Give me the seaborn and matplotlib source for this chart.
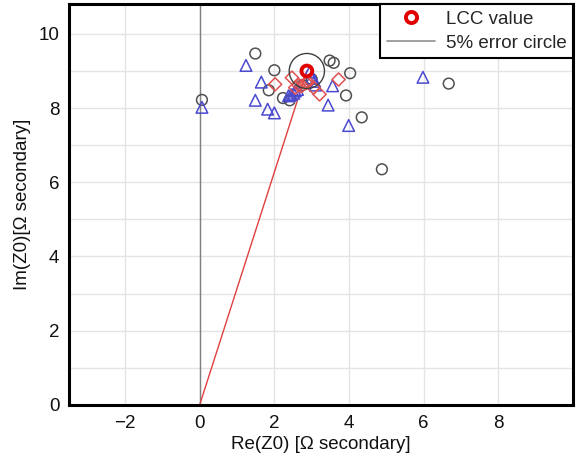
import matplotlib
matplotlib.use("Agg")
import matplotlib.pyplot as plt
from matplotlib.patches import Circle
from matplotlib.lines import Line2D
from matplotlib.ticker import MultipleLocator
import seaborn as sns
import pandas as pd
import numpy as np

# ---- data ----
circ_x = [0.06, 1.49, 2.00, 1.85, 2.23, 2.41, 3.48, 3.59, 4.03, 3.92, 4.34, 4.88, 6.67, 2.75, 3.00]
circ_y = [8.22, 9.47, 9.02, 8.48, 8.27, 8.21, 9.28, 9.22, 8.94, 8.34, 7.75, 6.35, 8.66, 8.62, 8.78]

tri_x = [0.06, 1.24, 1.65, 1.49, 1.82, 2.00, 3.56, 3.44, 3.99, 5.98, 2.38, 2.45, 2.52, 2.56, 2.62, 2.95, 3.00, 3.08, 3.10]
tri_y = [8.02, 9.15, 8.70, 8.21, 7.97, 7.87, 8.60, 8.08, 7.53, 8.83, 8.33, 8.36, 8.40, 8.46, 8.50, 8.98, 8.80, 8.72, 8.62]

dia_x = [2.02, 2.47, 2.56, 2.74, 3.05, 3.21, 3.72, 2.85, 2.65, 2.90]
dia_y = [8.64, 8.82, 8.55, 8.60, 8.55, 8.37, 8.77, 8.68, 8.62, 8.70]

lcc_x = [2.87]
lcc_y = [9.00]
error_pct = 0.05

x_ticks = [-2, 0, 2, 4, 6, 8]
y_ticks = [0, 2, 4, 6, 8, 10]

sns.set_theme(style="white")
plt.rcParams['font.family'] = ['Liberation Sans', 'DejaVu Sans']

FS = 13.5

fig = plt.figure(figsize=(5.8, 4.68), dpi=100)
ax = fig.add_axes([0.119, 0.135, 0.869, 0.856])

df_c = pd.DataFrame({"x": circ_x, "y": circ_y})
df_t = pd.DataFrame({"x": tri_x, "y": tri_y})
df_d = pd.DataFrame({"x": dia_x, "y": dia_y})

# reference lines
ax.axvline(0, color="#808080", lw=1.0, zorder=2)
ax.plot([0, lcc_x[0]], [0, lcc_y[0]], color="#e04040", lw=1.0, zorder=2)

sns.scatterplot(data=df_c, x="x", y="y", marker="o", s=60, facecolors="none",
                edgecolor="#505050", linewidth=1.1, ax=ax, zorder=3)
sns.scatterplot(data=df_t, x="x", y="y", marker="^", s=70, facecolors="none",
                edgecolor="#4a4ad0", linewidth=1.1, ax=ax, zorder=4)
sns.scatterplot(data=df_d, x="x", y="y", marker="D", s=45, facecolors="none",
                edgecolor="#e05050", linewidth=1.1, ax=ax, zorder=4)

r = error_pct * np.hypot(lcc_x[0], lcc_y[0])
ax.add_patch(Circle((lcc_x[0], lcc_y[0]), r, fill=False, edgecolor="#404040", lw=1.0, zorder=5))
sns.scatterplot(x=lcc_x, y=lcc_y, marker="o", s=60, facecolors="none",
                edgecolor="#e00000", linewidth=2.8, ax=ax, zorder=6)

ax.set_xlim(-3.5, 10.0)
ax.set_ylim(0, 10.8)
ax.set_xticks(x_ticks)
ax.set_yticks(y_ticks)
ax.set_xticklabels(["\u22122" if v < 0 else str(v) for v in x_ticks])
ax.yaxis.set_minor_locator(MultipleLocator(1))
ax.grid(True, which="major", color="#e4e4e4", lw=1.0)
ax.grid(True, which="minor", axis="y", color="#e4e4e4", lw=1.0)
ax.set_axisbelow(True)
ax.tick_params(axis="both", which="both", length=0, labelsize=FS, colors="#111111", pad=7)

for s in ax.spines.values():
    s.set_visible(True)
    s.set_color("black")
    s.set_linewidth(2.2)

ax.set_xlabel("Re(Z0) [\u03a9 secondary]", fontsize=FS, color="#111111", labelpad=3)
ax.set_ylabel("Im(Z0)[\u03a9 secondary]", fontsize=FS, color="#111111", labelpad=5)

handles = [
    Line2D([], [], marker="o", ls="none", markerfacecolor="none", markeredgecolor="#e00000",
           markeredgewidth=2.8, markersize=8),
    Line2D([], [], color="#909090", lw=1.2),
]
leg = ax.legend(handles, ["LCC value", "5% error circle"], loc="upper right",
                fontsize=FS, frameon=True, fancybox=False, borderaxespad=0.0,
                handlelength=2.6, borderpad=0.35, labelspacing=0.35, handletextpad=0.55)
leg.get_frame().set_edgecolor("black")
leg.get_frame().set_linewidth(1.5)
leg.get_frame().set_alpha(1)

fig.savefig("out.png", dpi=100)
